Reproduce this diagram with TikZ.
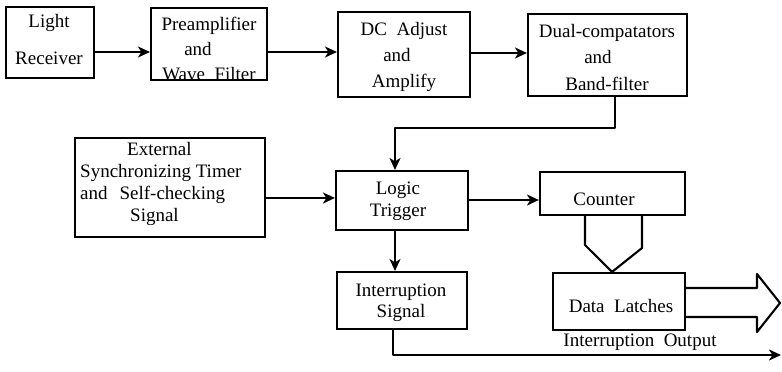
\documentclass[tikz,border=0pt]{standalone}
\usepackage{fontspec}
\setmainfont{Liberation Serif}
\usetikzlibrary{arrows.meta}
\begin{document}
\begin{tikzpicture}[x=1pt,y=-1pt,
  box/.style={draw, line width=2.1pt, inner sep=0pt},
  txt/.style={font=\fontsize{19}{24}\selectfont, align=center, inner sep=0pt},
  arr/.style={-{Stealth[length=12pt,width=11pt,inset=3.5pt]}, line width=2.1pt},
  conn/.style={line width=2.1pt, line join=round}]
\useasboundingbox (0,0) rectangle (782,372);
% boxes
\node[box, minimum width=88pt,  minimum height=71pt] (lr)    at (50,42.5) {};
\node[box, minimum width=116pt, minimum height=72pt] (pre)   at (209,44) {};
\node[box, minimum width=132pt, minimum height=85pt] (dc)    at (404,54.5) {};
\node[box, minimum width=159pt, minimum height=82pt] (dual)  at (607.5,55) {};
\node[box, minimum width=190pt, minimum height=99pt] (ext)   at (170,187.5) {};
\node[box, minimum width=132pt, minimum height=59pt] (logic) at (402,200.5) {};
\node[box, minimum width=130pt, minimum height=57pt] (intr)  at (402,300.5) {};
\node[box, minimum width=145pt, minimum height=43pt] (cnt)   at (612.5,193.5) {};
\node[box, minimum width=132pt, minimum height=57pt] (latch) at (619,301.5) {};
% texts
\node[txt] (lrT) at (49,40) {Light\\[13pt]Receiver};
\node[txt, font=\fontsize{19}{25}\selectfont] (preT) at (209,48.5) {Preamplifier\\\hspace*{-22pt}and\\Wave\ \ Filter};
\node[txt, font=\fontsize{19}{26}\selectfont] (dcT) at (404,56.5) {DC\ \ Adjust\\\hspace*{-14pt}and\\Amplify};
\node[txt, font=\fontsize{19}{26}\selectfont] (dualT) at (607,57.5) {Dual-compatators\\\hspace*{-18pt}and\\Band-filter};
\node[txt, font=\fontsize{19}{22}\selectfont, align=left, anchor=west] (extT) at (80,183.5)
  {\hspace*{47pt}External\\Synchronizing Timer\\and\hspace{12pt}Self-checking\\\hspace*{50pt}Signal};
\node[txt, font=\fontsize{19}{22}\selectfont] (logicT) at (398,201.5) {Logic\\Trigger};
\node[txt, font=\fontsize{19}{21}\selectfont] (intrT) at (401,302.5) {Interruption\\Signal};
\node[txt] (cntT) at (604,199) {Counter};
\node[txt] (latchT) at (621,306) {Data\ \ Latches};
\node[txt] (ioT) at (640,342) {Interruption\ \ Output};
% connectors
\draw[arr] (lr.east |- 0,52) -- (pre.west |- 0,52);
\draw[arr] (pre.east |- 0,52) -- (dc.west |- 0,52);
\draw[arr] (dc.east |- 0,53) -- (dual.west |- 0,53);
\draw[arr, line join=round] (dual.south -| 615,0) |- (395,128) -- (logic.north -| 395,0);
\draw[arr] (ext.east |- 0,198) -- (logic.west |- 0,198);
\draw[arr] (logic.east |- 0,200) -- (cnt.west |- 0,200);
\draw[arr] (logic.south -| 395,0) -- (intr.north -| 395,0);
\coordinate (iout) at (781,355);
\draw[arr, line join=round] (intr.south -| 393,0) |- (iout);
% counter to latches funnel
\draw[conn] (cnt.south -| 585,0) -- (585,245) -- (latch.north -| 612,0) -- (642,248) -- (cnt.south -| 642,0);
% hollow output arrow
\draw[conn] (latch.east |- 0,288) -- (757,288) -- (757,274) -- (780,303) -- (757,332) -- (757,317) -- (latch.east |- 0,317);
\end{tikzpicture}
\end{document}
